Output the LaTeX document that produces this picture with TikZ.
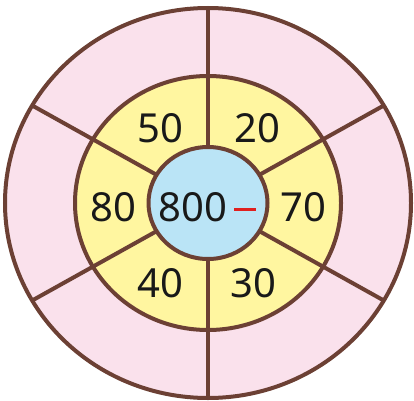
\documentclass[tikz,border=0pt]{standalone}
\usepackage{fontspec}
\setmainfont{Noto Sans}
\usetikzlibrary{calc}
\definecolor{brn}{RGB}{108,64,52}
\definecolor{pinkf}{RGB}{250,225,236}
\definecolor{yelf}{RGB}{255,246,160}
\definecolor{bluef}{RGB}{186,228,246}
\definecolor{redd}{RGB}{224,32,30}
\begin{document}
\begin{tikzpicture}[x=1pt,y=1pt,
  ring/.style={draw=brn,line width=4pt},
  num/.style={font=\fontsize{40}{40}\selectfont,text=black!90,inner sep=0pt}]
\useasboundingbox (0,0) rectangle (414,400);
\begin{scope}
\clip (0,0) rectangle (414,400);
\coordinate (c) at (208,197);
\fill[pinkf] (c) ellipse [x radius=203,y radius=195];
\fill[yelf] (c) ellipse [x radius=133,y radius=127];
\foreach \a in {90,30,-30,-90,210,150}{
  \draw[brn,line width=4pt] ($(c)+({59*cos(\a)},{56*sin(\a)})$) -- ($(c)+({203*cos(\a)},{195*sin(\a)})$);
}
\draw[ring] (c) ellipse [x radius=133,y radius=127];
\draw[ring,fill=bluef] (c) ellipse [x radius=59.5,y radius=56];
\draw[ring] (c) ellipse [x radius=203,y radius=195];
\end{scope}
\node[num] (n50) at (160,272) {50};
\node[num] (n20) at (257,272) {20};
\node[num] (n80) at (113,193) {80};
\node[num] (n70) at (303,193) {70};
\node[num] (n40) at (160,117) {40};
\node[num] (n30) at (253,117) {30};
\node[num] (n800) at (193,193) {800};
\coordinate (d1) at (234,191);
\coordinate (d2) at (256,191);
\draw[redd,line width=3pt] (d1) -- (d2);
\end{tikzpicture}
\end{document}
